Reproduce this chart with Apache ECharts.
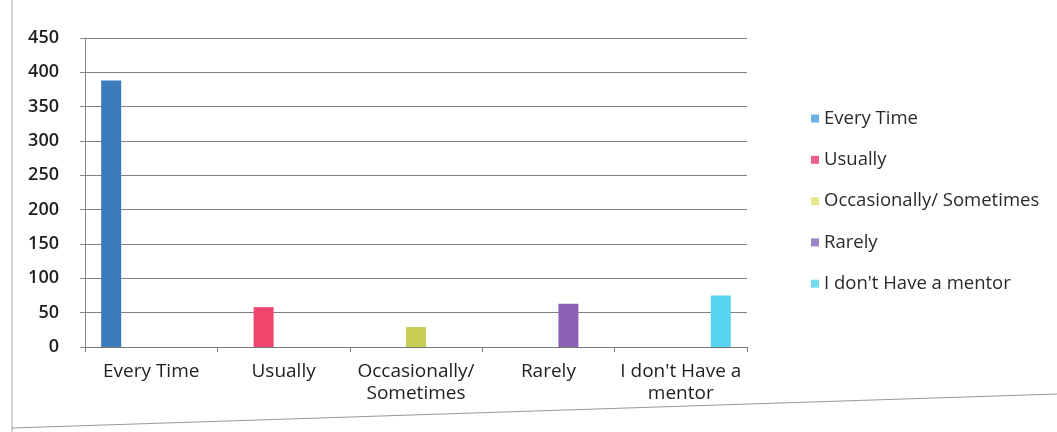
<!DOCTYPE html>
<html>
<head>
<meta charset="utf-8">
<style>
html,body{margin:0;padding:0;background:#fff;}
#chart{width:1057px;height:432px;}
</style>
<script src="https://cdn.jsdelivr.net/npm/echarts@6/dist/echarts.min.js"></script>
</head>
<body>
<div id="chart"></div>
<script>
const categories = ["Every Time", "Usually", "Occasionally/\nSometimes", "Rarely", "I don't Have a\nmentor"];
const seriesNames = ["Every Time", "Usually", "Occasionally/ Sometimes", "Rarely", "I don't Have a mentor"];
const values = [388, 58, 29, 63, 75];
const yTicks = [0, 50, 100, 150, 200, 250, 300, 350, 400, 450];
const colors = ["#3b7abb", "#f0456c", "#c9cc55", "#8b62b3", "#57d2f0"];
const legendColors = ["#6cb0e2", "#f0608e", "#e6e88e", "#9c84c4", "#76dbf2"];

const FONT = "Open Sans";
const series = seriesNames.map((name, i) => ({
  name: name,
  type: 'bar',
  barWidth: 20,
  barGap: '0%',
  itemStyle: { color: colors[i] },
  data: categories.map((c, j) => j === i ? values[i] : '-')
}));

const chart = echarts.init(document.getElementById('chart'), null, { renderer: 'canvas' });
chart.setOption({
  animation: false,
  backgroundColor: '#fff',
  textStyle: { fontFamily: FONT },
  grid: { left: 85, right: 310, top: 38, bottom: 85, containLabel: false },
  legend: {
    orient: 'vertical',
    left: 806,
    top: 104,
    itemWidth: 8,
    itemHeight: 8,
    itemGap: 22.3,
    icon: 'rect',
    textStyle: { fontFamily: FONT, fontSize: 18.5, color: '#2a2a2a' },
    data: seriesNames.map((n, i) => ({ name: n, itemStyle: { color: legendColors[i] } }))
  },
  xAxis: {
    type: 'category',
    data: categories,
    axisLine: { lineStyle: { color: '#777', width: 1 } },
    axisTick: { show: true, length: 5, lineStyle: { color: '#777' } },
    axisLabel: { fontFamily: FONT, fontSize: 19, color: '#1e1e1e', margin: 14, lineHeight: 22, interval: 0 }
  },
  yAxis: {
    type: 'value',
    min: yTicks[0],
    max: yTicks[yTicks.length - 1],
    interval: 50,
    axisLine: { show: true, lineStyle: { color: '#888' } },
    axisTick: { show: true, length: 5, lineStyle: { color: '#888' } },
    splitLine: { lineStyle: { color: '#808080', width: 1 } },
    axisLabel: { fontFamily: FONT, fontSize: 18, fontWeight: 600, color: '#1e1e1e', margin: 26 }
  },
  graphic: [
    { type: 'line', shape: { x1: 12, y1: 0, x2: 12, y2: 432 }, style: { stroke: '#aaa', lineWidth: 1 } },
    { type: 'line', shape: { x1: 12, y1: 428, x2: 1057, y2: 394 }, style: { stroke: '#999', lineWidth: 1 } }
  ],
  series: series
});
</script>
</body>
</html>
